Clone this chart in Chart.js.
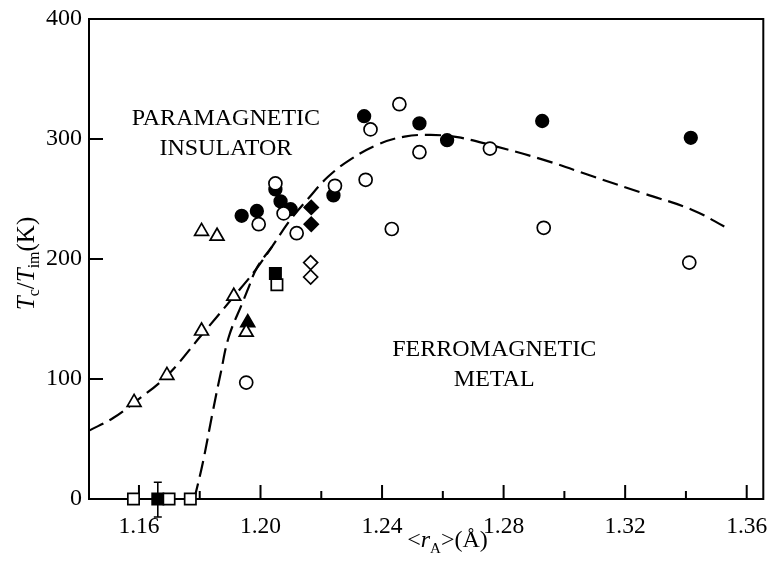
<!DOCTYPE html>
<html><head><meta charset="utf-8">
<script src="https://cdn.jsdelivr.net/npm/chart.js@4"></script>
<style>html,body{margin:0;padding:0;background:#fff}#wrap{width:773px;height:563px}</style>
</head><body><div id="wrap"><canvas id="c" width="773" height="563"></canvas></div>
<script>
// ---- axis ticks ----
const xTicks = [1.16, 1.20, 1.24, 1.28, 1.32, 1.36];
const xMinorTicks = [1.18, 1.22, 1.26, 1.30, 1.34];
const yTicks = [0, 100, 200, 300, 400];

// ---- data series ----
const filledCircleX = [1.1938, 1.1988, 1.2049, 1.2066, 1.2099, 1.2240, 1.2341, 1.2523, 1.2614, 1.2927, 1.3416];
const filledCircleY = [236, 240, 258, 248, 241.5, 253, 319, 313, 299, 315, 301];

const openCircleX = [1.1953, 1.1994, 1.2049, 1.2076, 1.2119, 1.2245, 1.2346, 1.2362, 1.2432, 1.2457, 1.2523, 1.2755, 1.2932, 1.3411];
const openCircleY = [97, 229, 263, 238, 221.5, 261, 266, 308, 225, 329, 289, 292, 226, 197];

const openTriangleX = [1.1584, 1.1692, 1.1806, 1.1912, 1.1953, 1.1806, 1.1857];
const openTriangleY = [80.5, 103, 140, 169, 139, 223, 219];

const filledTriangleX = [1.1958];
const filledTriangleY = [147];

const openSquareX = [1.1582, 1.1699, 1.1769, 1.2054];
const openSquareY = [0, 0, 0, 178.5];

const filledSquareX = [1.1662, 1.2049];
const filledSquareY = [0, 188];

const errorBarX = [1.1662];
const errorBarY = [0];
const errorBarLow = [-15];
const errorBarHigh = [14];

const openDiamondX = [1.2165, 1.2165];
const openDiamondY = [197, 185];

const filledDiamondX = [1.2167, 1.2167];
const filledDiamondY = [243, 229];

// dashed guide curves
const curveAX = [1.1436, 1.1515, 1.1585, 1.1692, 1.1804, 1.1912, 1.1984, 1.2038, 1.2098, 1.2158, 1.2223, 1.2299, 1.2387, 1.2474, 1.2560, 1.2648, 1.2757, 1.2932, 1.3095, 1.3259, 1.3421, 1.3536];
const curveAY = [57, 67.5, 80.5, 102.7, 136, 168.7, 191, 210.4, 232.6, 250.7, 268.7, 283.4, 295.5, 302, 303.4, 301.5, 295, 282.6, 268.7, 254.8, 240.9, 225.7];

const curveBX = [1.1782, 1.1810, 1.1842, 1.1869, 1.1896, 1.1940, 1.1962, 1.1988, 1.2038];
const curveBY = [0, 30, 71.6, 104.9, 135.4, 163.2, 177, 192.6, 210.4];

// region labels (anchored in data space)
const regionText = ['PARAMAGNETIC', 'INSULATOR', 'FERROMAGNETIC', 'METAL'];
const regionX = [1.1886, 1.1886, 1.2769, 1.2769];
const regionY = [311.7, 286.7, 118.8, 93.8];

const SERIF = "'Liberation Serif','Times New Roman',serif";
const pts = (xs, ys) => xs.map((x, i) => ({x: x, y: ys[i]}));

function markerSet(xs, ys, style, filled, radius) {
  return {
    data: pts(xs, ys), showLine: false, pointStyle: style, pointRadius: radius,
    pointBackgroundColor: filled ? '#000' : '#fff', pointBorderColor: '#000',
    pointBorderWidth: 1.7, clip: false, order: 1
  };
}
function curveSet(xs, ys) {
  return {
    data: pts(xs, ys), showLine: true, pointRadius: 0, borderColor: '#000',
    borderWidth: 2.2, borderDash: [16, 7], tension: 0.4,
    fill: false, clip: false, order: 10
  };
}

function drawRuns(ctx, runs, x, y) {
  let total = 0;
  runs.forEach(r => { ctx.font = r.font; r.w = ctx.measureText(r.t).width; total += r.w; });
  let cx = x - total / 2;
  ctx.textAlign = 'left';
  ctx.textBaseline = 'alphabetic';
  runs.forEach(r => { ctx.font = r.font; ctx.fillText(r.t, cx, y + (r.dy || 0)); cx += r.w; });
}

const decor = {
  id: 'decor',
  beforeDatasetsDraw(chart) {
    const {ctx, chartArea: a, scales: {x, y}} = chart;
    ctx.save();
    ctx.strokeStyle = '#000';
    ctx.lineWidth = 2;
    ctx.strokeRect(a.left, a.top, a.right - a.left, a.bottom - a.top);
    ctx.beginPath();
    xTicks.forEach(v => { const p = x.getPixelForValue(v); ctx.moveTo(p, a.bottom); ctx.lineTo(p, a.bottom - 14); });
    xMinorTicks.forEach(v => { const p = x.getPixelForValue(v); ctx.moveTo(p, a.bottom); ctx.lineTo(p, a.bottom - 8); });
    yTicks.forEach(v => { const p = y.getPixelForValue(v); ctx.moveTo(a.left, p); ctx.lineTo(a.left + 14, p); });
    ctx.stroke();
    // error bars
    ctx.lineWidth = 1.6;
    errorBarX.forEach((ex, i) => {
      const px = x.getPixelForValue(ex);
      const lo = y.getPixelForValue(errorBarY[i] + errorBarLow[i]);
      const hi = y.getPixelForValue(errorBarY[i] + errorBarHigh[i]);
      ctx.beginPath();
      ctx.moveTo(px, lo); ctx.lineTo(px, hi);
      ctx.moveTo(px - 4, lo); ctx.lineTo(px + 4, lo);
      ctx.moveTo(px - 4, hi); ctx.lineTo(px + 4, hi);
      ctx.stroke();
    });
    ctx.restore();
  },
  afterDraw(chart) {
    const {ctx, scales: {x, y}} = chart;
    ctx.save();
    ctx.fillStyle = '#000';
    // region labels
    ctx.font = '24px ' + SERIF;
    ctx.textAlign = 'center';
    ctx.textBaseline = 'alphabetic';
    regionText.forEach((t, i) => ctx.fillText(t, x.getPixelForValue(regionX[i]), y.getPixelForValue(regionY[i])));
    // x title: <r_A>(Å)
    drawRuns(ctx, [
      {t: '<', font: '24px ' + SERIF},
      {t: 'r', font: 'italic 24px ' + SERIF},
      {t: 'A', font: '15px ' + SERIF, dy: 6},
      {t: '>(Å)', font: '24px ' + SERIF}
    ], 447.5, 547);
    // y title: T_c/T_im(K)
    ctx.translate(33.5, 263.5);
    ctx.rotate(-Math.PI / 2);
    drawRuns(ctx, [
      {t: 'T', font: 'italic 25px ' + SERIF},
      {t: 'c', font: '16px ' + SERIF, dy: 5},
      {t: '/', font: '25px ' + SERIF},
      {t: 'T', font: 'italic 25px ' + SERIF},
      {t: 'im', font: '16px ' + SERIF, dy: 5},
      {t: '(K)', font: '25px ' + SERIF}
    ], 0, 0);
    ctx.restore();
  }
};

new Chart(document.getElementById('c'), {
  type: 'scatter',
  data: {
    datasets: [
      markerSet(openCircleX, openCircleY, 'circle', false, 6.5),
      markerSet(filledCircleX, filledCircleY, 'circle', true, 6.3),
      markerSet(openTriangleX, openTriangleY, 'triangle', false, 8),
      markerSet(filledTriangleX, filledTriangleY, 'triangle', true, 8),
      markerSet(openSquareX, openSquareY, 'rect', false, 8),
      markerSet(filledSquareX, filledSquareY, 'rect', true, 8),
      markerSet(openDiamondX, openDiamondY, 'rectRot', false, 7),
      markerSet(filledDiamondX, filledDiamondY, 'rectRot', true, 7),
      curveSet(curveAX, curveAY),
      curveSet(curveBX, curveBY)
    ]
  },
  options: {
    responsive: false,
    animation: false,
    events: [],
    layout: {padding: {top: 19, right: 5, left: 0, bottom: 0}},
    plugins: {legend: {display: false}, tooltip: {enabled: false}},
    scales: {
      x: {
        type: 'linear', min: 1.14356, max: 1.36546,
        grid: {display: false, drawTicks: false, tickLength: 0}, border: {display: false},
        afterBuildTicks: s => { s.ticks = xTicks.map(v => ({value: v})); },
        afterFit: s => { s.height = 64; s.paddingLeft = 0; s.paddingRight = 0; },
        ticks: {
          callback: v => Number(v).toFixed(2), color: '#000', padding: 14,
          maxRotation: 0, autoSkip: false, font: {family: SERIF, size: 23.5}
        }
      },
      y: {
        type: 'linear', min: 0, max: 400,
        grid: {display: false, drawTicks: false, tickLength: 0}, border: {display: false},
        afterBuildTicks: s => { s.ticks = yTicks.map(v => ({value: v})); },
        afterFit: s => { s.width = 89; s.paddingTop = 0; s.paddingBottom = 0; },
        ticks: {
          callback: v => String(v), color: '#000', padding: 7,
          autoSkip: false, font: {family: SERIF, size: 24}
        }
      }
    }
  },
  plugins: [decor]
});
</script>
</body></html>
